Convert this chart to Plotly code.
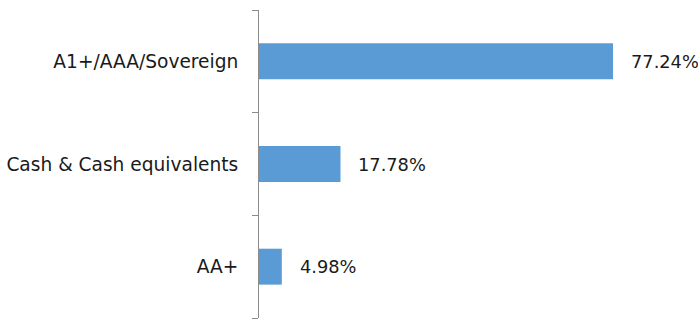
import plotly.graph_objects as go

categories = ["A1+/AAA/Sovereign", "Cash & Cash equivalents", "AA+"]
values = [77.24, 17.78, 4.98]
labels = ["77.24%", "17.78%", "4.98%"]

bar_color = "#5B9BD5"
text_color = "#1a1a1a"
font_family = "DejaVu Sans"

fig = go.Figure()
fig.add_trace(go.Bar(
    y=categories, x=values, orientation="h",
    marker=dict(color=bar_color, line=dict(width=0)),
    width=0.35, hoverinfo="skip",
))
for c, v, t in zip(categories, values, labels):
    fig.add_annotation(x=v, y=c, text=t, showarrow=False, xanchor="left",
                       xshift=16, font=dict(family=font_family, size=17.8, color=text_color))

fig.update_layout(
    width=698, height=323,
    margin=dict(l=259, r=8, t=10, b=5),
    paper_bgcolor="white", plot_bgcolor="white",
    showlegend=False,
    xaxis=dict(range=[0, 94.04], visible=False, fixedrange=True),
    yaxis=dict(
        categoryorder="array", categoryarray=categories[::-1],
        showline=True, linecolor="#8c8c8c", linewidth=1,
        ticks="outside", ticklen=6, tickcolor="#8c8c8c", tickwidth=1,
        tickson="boundaries", showgrid=False, zeroline=False,
        tickfont=dict(family=font_family, size=18.6, color=text_color),
        ticklabelstandoff=16,
    ),
)
fig.write_html("out.html")
